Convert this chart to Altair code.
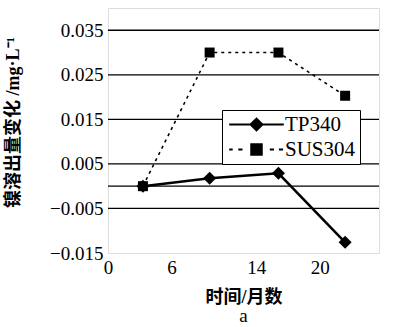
import altair as alt
import pandas as pd

months = [3.3, 9.6, 16.1, 22.4]
tp340 = [0.0, 0.0018, 0.0029, -0.0126]
sus304 = [0.0, 0.030, 0.030, 0.0203]
series = ["TP340", "SUS304"]
y_labels = [0.035, 0.025, 0.015, 0.005, -0.005, -0.015]
y_grid = [0.035, 0.025, 0.015, 0.005, 0.0, -0.005]
x_labels = [0, 6, 14, 20]

df = pd.DataFrame({
    "month": months * 2,
    "value": tp340 + sus304,
    "series": ["TP340"] * 4 + ["SUS304"] * 4,
})
grid_df = pd.DataFrame({"g": y_grid})

xscale = alt.Scale(domain=[0, 25.6], nice=False, zero=False)
yscale = alt.Scale(domain=[-0.015, 0.040], nice=False, zero=False)

num_font = "Times New Roman, Liberation Serif, serif"
title_font = "Liberation Serif, Noto Sans CJK SC"

x_axis = alt.Axis(values=x_labels, format="d", title="时间/月数",
                  grid=False, ticks=False, domain=False,
                  labelFont=num_font, labelFontSize=19, labelColor="black",
                  labelPadding=5, labelFlush=False,
                  titleFont=title_font, titleFontSize=18, titleFontWeight="bold",
                  titleColor="black", titlePadding=11)
y_axis = alt.Axis(values=y_labels, format=".3f", title="镍溶出量变化 /mg·L⁻¹",
                  grid=False, ticks=False, domain=False,
                  labelFont=num_font, labelFontSize=19, labelColor="black",
                  labelPadding=5, labelFlush=False,
                  titleFont=title_font, titleFontSize=18, titleFontWeight="bold",
                  titleColor="black", titleX=-86, titleY=114)

x_enc = alt.X("month:Q", scale=xscale, axis=x_axis)
y_enc = alt.Y("value:Q", scale=yscale, axis=y_axis)

grid = alt.Chart(grid_df).mark_rule(color="black", strokeWidth=1.3).encode(
    y=alt.Y("g:Q", scale=yscale, axis=y_axis)
)

tp_line = alt.Chart(df).transform_filter(alt.datum.series == "TP340").mark_line(
    color="black", strokeWidth=2.5).encode(x=x_enc, y=y_enc)
sus_line = alt.Chart(df).transform_filter(alt.datum.series == "SUS304").mark_line(
    color="black", strokeWidth=1.6, strokeDash=[3, 4]).encode(x=x_enc, y=y_enc)
tp_pts = alt.Chart(df).transform_filter(alt.datum.series == "TP340").mark_point(
    shape="diamond", filled=True, color="black", opacity=1, size=170).encode(x=x_enc, y=y_enc)
sus_pts = alt.Chart(df).transform_filter(alt.datum.series == "SUS304").mark_point(
    shape="square", filled=True, color="black", opacity=1, size=100).encode(x=x_enc, y=y_enc)

path_tp = "M-3.9,0H3.9M-0.85,0L0,-0.85L0.85,0L0,0.85Z"
path_sus = ("M-3.9,0H-3.4M-2.6,0H-2.0M1.9,0H2.5M3.2,0H3.8"
            "M-0.75,-0.75H0.75V0.75H-0.75Z")

leg = alt.Legend(title=None, orient="none", legendX=114, legendY=102,
                 labelFont=num_font, labelFontSize=21, labelColor="black",
                 symbolOffset=20, labelOffset=18, rowPadding=3,
                 padding=4, strokeColor="black", fillColor="white",
                 symbolStrokeWidth=2, symbolSize=196, symbolOpacity=1)

legend_layer = alt.Chart(df).transform_filter("false").mark_point(
    strokeWidth=2, opacity=1, size=196
).encode(
    x=x_enc, y=y_enc,
    shape=alt.Shape("series:N", scale=alt.Scale(domain=series, range=[path_tp, path_sus]),
                    legend=leg),
    stroke=alt.Stroke("series:N", scale=alt.Scale(domain=series, range=["black", "black"]),
                      legend=leg),
    fill=alt.Fill("series:N", scale=alt.Scale(domain=series, range=["black", "black"]),
                  legend=leg),
)

chart = alt.layer(grid, sus_line, tp_line, sus_pts, tp_pts, legend_layer).properties(
    width=271, height=245,
    title=alt.Title("a", orient="bottom", font=num_font, fontSize=19, fontWeight="normal",
                    color="black", offset=1),
    autosize=alt.AutoSizeParams(type="none"),
    padding={"left": 108, "top": 8, "right": 21, "bottom": 74},
).configure_view(stroke="black", strokeWidth=1.5).configure(
    background="white"
).configure_axis(labelFont=num_font).configure_legend(labelFont=num_font)

chart.save("out.html", embed_options={"renderer": "svg", "actions": False})
